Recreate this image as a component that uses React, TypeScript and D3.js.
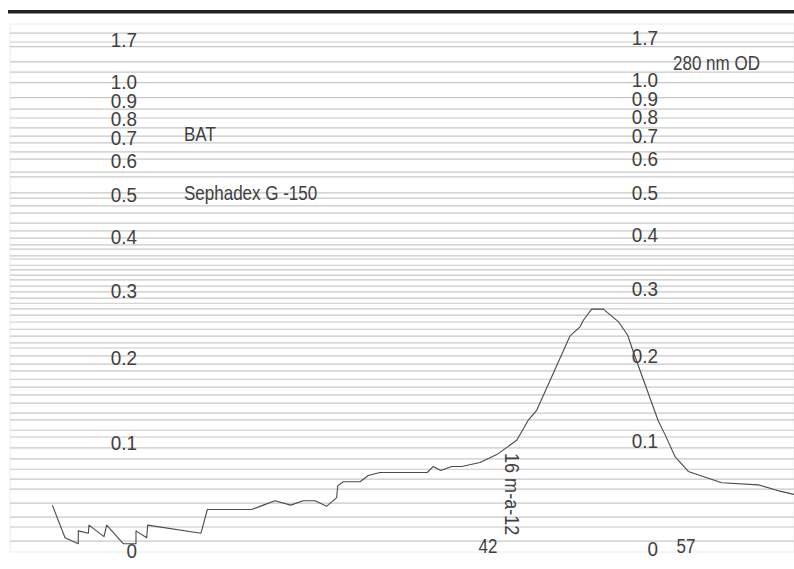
import React from "react";
import * as d3 from "d3";

// Absorbance values printed on the two scale columns of the recorder paper
const odTicks = [1.7, 1.0, 0.9, 0.8, 0.7, 0.6, 0.5, 0.4, 0.3, 0.2, 0.1, 0];
const odTickLabels = ["1.7", "1.0", "0.9", "0.8", "0.7", "0.6", "0.5", "0.4", "0.3", "0.2", "0.1", "0"];

// Ruled lines of the chart paper, in % transmittance
const paperRules = [
  0.3, 2.0, 2.9, 5.8, 7.8, 9.8, 12.7, 14.9, 16.6, 18.5, 20.1, 21.4, 23.1, 24.5,
  27.0, 27.9, 31.0, 32.0, 33.5, 34.9, 36.8, 38.3, 39.7, 41.0, 41.8, 43.1, 43.7,
  44.9, 45.8, 46.8, 47.7, 48.9, 50.0, 51.2, 52.2, 53.3, 54.5, 55.8, 57.2, 58.5,
  59.8, 60.8, 62.3, 63.9, 65.2, 66.8, 68.3, 69.8, 71.4, 73.3, 74.6, 76.6, 77.9,
  80.0, 82.1, 84.1, 86.0, 87.9, 90.6, 93.3, 95.2, 97.9,
];

// Recorder trace: chart position (% of run) and absorbance at 280 nm
const tracePos = [
  5.40, 7.02, 8.71, 8.71, 9.99, 10.08, 11.99, 12.33, 14.45, 16.07, 16.07, 17.44,
  17.56, 24.36, 25.17, 30.83, 32.31, 33.80, 35.80, 37.41, 38.90, 40.40, 41.67,
  41.80, 42.51, 44.64, 45.70, 47.19, 53.23, 53.99, 54.94, 56.34, 57.62, 59.95,
  62.09, 64.64, 66.11, 67.18, 71.43, 72.70, 73.13, 74.20, 75.68, 77.59, 78.79,
  79.50, 82.69, 83.55, 84.82, 86.52, 90.78, 95.45, 98.21, 100.0,
];
const traceOD = [
  0.041, 0.012, 0.007, 0.018, 0.016, 0.023, 0.013, 0.023, 0.007, 0.007, 0.018,
  0.012, 0.023, 0.016, 0.037, 0.037, 0.041, 0.045, 0.041, 0.045, 0.045, 0.040,
  0.048, 0.059, 0.063, 0.063, 0.069, 0.072, 0.072, 0.078, 0.074, 0.078, 0.078,
  0.082, 0.090, 0.105, 0.127, 0.138, 0.233, 0.246, 0.256, 0.273, 0.273, 0.254,
  0.234, 0.211, 0.126, 0.111, 0.088, 0.073, 0.062, 0.060, 0.054, 0.051,
];

// Fraction numbers marked along the run
const fractionNumbers = ["42", "57"];
const fractionPos = [60.97, 86.22];

const W = 794;
const H = 569;
const FONT = "'Liberation Sans', Arial, sans-serif";
const FONT_SIZE = 21;
const NARROW = 0.81; // horizontal squeeze for a condensed face
const LABEL_GAP = 18.5; // minimum baseline spacing of stacked scale labels

type LabelProps = {
  x: number;
  y: number;
  anchor?: "start" | "middle" | "end";
  rotate?: number;
  squeeze?: number;
  children: React.ReactNode;
};

function Label({ x, y, anchor = "start", rotate = 0, squeeze = NARROW, children }: LabelProps) {
  return (
    <text
      transform={`translate(${x},${y}) rotate(${rotate}) scale(${squeeze},1)`}
      textAnchor={anchor}
      fontFamily={FONT}
      fontSize={FONT_SIZE}
      fill="#404040"
    >
      {children}
    </text>
  );
}

// Place labels at their scale positions, pushing crowded ones downward
function stackBaselines(raw: number[]): number[] {
  const out: number[] = [];
  raw.forEach((v, i) => {
    out.push(i === 0 ? v : Math.max(v, out[i - 1] + LABEL_GAP));
  });
  return out;
}

export default function App() {
  const x = d3.scaleLinear().domain([0, 100]).range([10, 794]);
  // Paper is linear in transmittance; absorbance is read through T = 10^-A
  const yT = d3.scaleLinear().domain([0, 1]).range([31.6, 552]);
  const yOD = (a: number) => yT(Math.pow(10, -a));

  const trace = d3
    .line<number>()
    .x((_, i) => x(tracePos[i]))
    .y((d) => yOD(d))(traceOD);

  const leftY = stackBaselines(odTicks.map((a) => yOD(a) + 5.5));
  const rightY = stackBaselines(odTicks.map((a) => yOD(a) + 3.5));

  return (
    <svg
      width={W}
      height={H}
      viewBox={`0 0 ${W} ${H}`}
      style={{ position: "absolute", left: 0, top: 0, background: "#fff" }}
    >
      <rect x={0} y={0} width={W} height={H} fill="#fff" />
      {/* heavy rule above the chart */}
      <rect x={8} y={10} width={W - 8} height={3.5} fill="#222" />

      {/* paper frame */}
      <rect x={10} y={24} width={W - 10} height={528} fill="none" stroke="#ececec" strokeWidth={1} />

      {/* ruled lines */}
      <g stroke="#c8c8c8" strokeWidth={1.2}>
        {paperRules.map((p, i) => (
          <line key={i} x1={10} x2={W} y1={yT(p / 100)} y2={yT(p / 100)} />
        ))}
      </g>

      {/* absorbance scale columns */}
      {odTicks.map((a, i) => (
        <Label key={"l" + i} x={137} y={leftY[i]} anchor="end" squeeze={0.9}>
          {odTickLabels[i]}
        </Label>
      ))}
      {odTicks.map((a, i) => (
        <Label key={"r" + i} x={658} y={rightY[i]} anchor="end" squeeze={0.9}>
          {odTickLabels[i]}
        </Label>
      ))}

      {/* elution trace */}
      <path d={trace ?? ""} fill="none" stroke="#4a4a4a" strokeWidth={1.1} strokeLinejoin="round" />

      {/* fraction numbers */}
      {fractionNumbers.map((f, i) => (
        <Label key={f} x={x(fractionPos[i])} y={yT(1) + 1} anchor="middle">
          {f}
        </Label>
      ))}

      {/* annotations */}
      <Label x={184} y={141}>BAT</Label>
      <Label x={184} y={200}>Sephadex G -150</Label>
      <Label x={673} y={70}>280 nm OD</Label>
      <Label x={505} y={453} rotate={90} squeeze={0.86}>16 m-a-12</Label>
    </svg>
  );
}
